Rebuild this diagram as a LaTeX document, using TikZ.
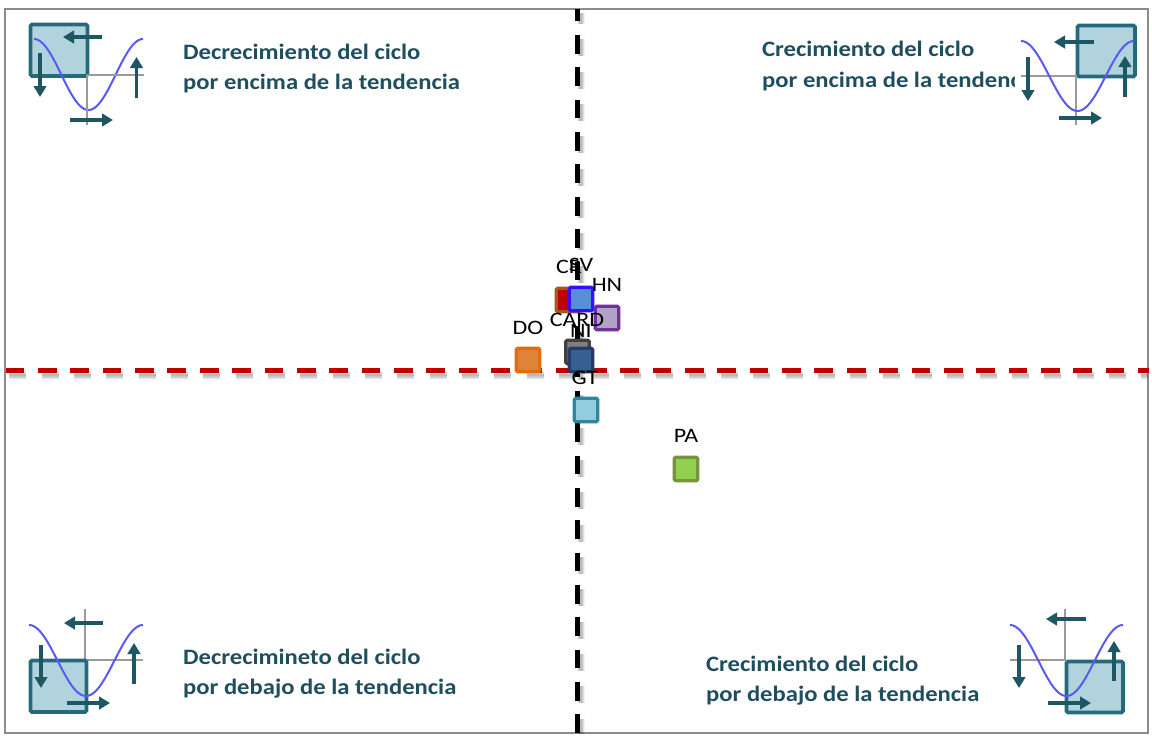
\documentclass[tikz,border=0pt]{standalone}
\usepackage{graphicx}
\usepackage{fontspec}
\setmainfont{Carlito}
\usetikzlibrary{arrows.meta}
\definecolor{frameg}{HTML}{8C8C8C}
\definecolor{tealb}{HTML}{26697B}
\definecolor{tealf}{HTML}{B1D3DE}
\definecolor{tealar}{HTML}{1E5763}
\definecolor{curvec}{HTML}{5A5AF0}
\definecolor{axisg}{HTML}{9A9A9A}
\definecolor{headc}{HTML}{1F4E5F}
\definecolor{redl}{HTML}{C00000}
\definecolor{crb}{HTML}{A8561E}
\definecolor{svb}{HTML}{3311FF}
\definecolor{svf}{HTML}{588ED8}
\definecolor{hnb}{HTML}{7030A0}
\definecolor{hnf}{HTML}{B3A2C7}
\definecolor{dob}{HTML}{E46C0A}
\definecolor{dof}{HTML}{DD8439}
\definecolor{cab}{HTML}{404040}
\definecolor{caf}{HTML}{7F7F7F}
\definecolor{nib}{HTML}{263A64}
\definecolor{nif}{HTML}{376092}
\definecolor{gtb}{HTML}{31859C}
\definecolor{gtf}{HTML}{92CDDC}
\definecolor{pab}{HTML}{77933C}
\definecolor{paf}{HTML}{92D050}
\tikzset{
  x=1pt,y=-1pt,
  framebox/.style={draw=frameg,line width=1.3pt},
  blackdash/.style={draw=black,line width=4.7pt,dash pattern=on 18.7pt off 13.65pt,dash phase=6.3pt},
  reddash/.style={draw=redl,line width=4.7pt,dash pattern=on 18.7pt off 13.65pt},
  vshadow/.style={draw=black,opacity=.06,dash pattern=on 17pt off 15.35pt,dash phase=5.5pt},
  hshadow/.style={draw=black,opacity=.06,dash pattern=on 17pt off 15.35pt},
  iconbox/.style={draw=tealb,fill=tealf,line width=3.6pt,rounded corners=1.5pt},
  cyclecurve/.style={draw=curvec,line width=2pt},
  axisline/.style={draw=axisg,line width=1.5pt},
  trend/.style={draw=tealar,line width=3.4pt,-{Triangle[width=12.5pt,length=11pt]}},
  heading/.style={font=\fontsize{22}{30}\selectfont\bfseries,text=headc,anchor=base west,inner sep=0pt},
  marker/.style={draw=#1,line width=3.2pt,rounded corners=1.5pt,minimum size=23.6pt,inner sep=0pt},
  tag/.style={font=\fontsize{20.5}{20}\selectfont,text=black,inner sep=0pt},
}
\newcommand{\hz}[1]{\scalebox{1.17}[1]{#1}}
\newcommand{\hd}[1]{\scalebox{1.12}[1]{#1}}
\newcommand{\wavepath}[4]{% x0, y0, width, depth
  plot[domain=0:360,samples=73,smooth] ({#1+\x/360*#3},{#2+#4*(1-cos(\x))/2})}
\begin{document}
\begin{tikzpicture}
\useasboundingbox (0,0) rectangle (1152,740);
\fill[white] (0,0) rectangle (1152,740);
\coordinate (vtop) at (577.4,9);
\coordinate (vbot) at (577.4,734);
\coordinate (hl) at (5.7,370.8);
\coordinate (hr) at (1149,370.8);

\draw[framebox] (5,9) rectangle (1148,733);

% headings
\node[heading] (h1a) at (183,59) {\hd{Decrecimiento del ciclo}};
\node[heading] (h1b) at (183,89) {\hd{por encima de la tendencia}};
\node[heading] (h2a) at (762,56) {\hd{Crecimiento del ciclo}};
\node[heading] (h2b) at (762,87) {\hd{por encima de la tendencia}};
\fill[white] (1015,62) rectangle (1060,100);
\node[heading] (h3a) at (183,664) {\hd{Decrecimineto del ciclo}};
\node[heading] (h3b) at (183,694) {\hd{por debajo de la tendencia}};
\node[heading] (h4a) at (706,671) {\hd{Crecimiento del ciclo}};
\node[heading] (h4b) at (706,701) {\hd{por debajo de la tendencia}};

% icon top left
\path[iconbox] (30.5,24.5) rectangle (87.5,76);
\draw[cyclecurve] \wavepath{34}{39}{109}{71};
\draw[axisline] (87,75) -- (144,75);
\draw[axisline] (87,75) -- (87,125);
\draw[trend] (102,37) -- (63,37);
\draw[trend] (40,53) -- (40,97);
\draw[trend] (136.5,98) -- (136.5,57);
\draw[trend] (70,120) -- (113,120);

% icon top right
\path[iconbox] (1077.5,25.5) rectangle (1135,76.5);
\draw[axisline] (1021,76) -- (1077,76);
\draw[axisline] (1076,76) -- (1076,125);
\draw[cyclecurve] \wavepath{1021}{41}{113}{70};
\draw[trend] (1094,42) -- (1054,42);
\draw[trend] (1028,57) -- (1028,101);
\draw[trend] (1125,97) -- (1125,56);
\draw[trend] (1059,118) -- (1102,118);

% icon bottom left
\draw[axisline] (85,660) -- (143,660);
\draw[axisline] (85,609) -- (85,660);
\path[iconbox] (30.5,660.5) rectangle (86.5,712);
\draw[cyclecurve] \wavepath{29}{625}{114}{71};
\draw[trend] (103,623) -- (64,623);
\draw[trend] (41,645) -- (41,688);
\draw[trend] (134,684) -- (134,643);
\draw[trend] (67,703) -- (110,703);

% icon bottom right
\draw[axisline] (1010,660) -- (1066,660);
\draw[axisline] (1065,609) -- (1065,660);
\path[iconbox] (1066.5,661.5) rectangle (1123,712.5);
\draw[cyclecurve] \wavepath{1010}{625}{113}{71};
\draw[trend] (1086,619) -- (1046,619);
\draw[trend] (1019,645) -- (1019,688);
\draw[trend] (1114,681) -- (1114,641);
\draw[trend] (1048,703) -- (1091,703);

% reference lines with soft shadows
\foreach \w in {8,6.5,5,3.5,2}{
  \draw[vshadow,line width=\w pt] ([shift={(3.5,3.5)}]vtop) -- ([shift={(3.5,0)}]vbot);
  \draw[hshadow,line width=\w pt] ([shift={(3.5,4.5)}]hl) -- ([shift={(-1,4.5)}]hr);
}
\draw[blackdash] (vtop) -- (vbot);
\draw[reddash] (hl) -- (hr);

% markers
\node[marker=crb,fill=redl] (mCR) at (568,300) {};
\node[marker=svb,fill=svf] (mSV) at (581,299) {};
\node[marker=hnb,fill=hnf] (mHN) at (607,318) {};
\node[marker=dob,fill=dof] (mDO) at (528,360) {};
\node[marker=cab,fill=caf] (mCARD) at (577.5,352) {};
\node[marker=nib,fill=nif] (mNI) at (581,360) {};
\node[marker=gtb,fill=gtf] (mGT) at (586,410) {};
\node[marker=pab,fill=paf] (mPA) at (686,469) {};

% labels
\node[tag] (tCR) at (569,267) {\hz{CR}};
\node[tag] (tSV) at (581,265) {\hz{SV}};
\node[tag] (tHN) at (607,285) {\hz{HN}};
\node[tag] (tCARD) at (577,320) {\hz{CARD}};
\node[tag] (tNI) at (581,331) {\hz{NI}};
\node[tag] (tDO) at (528,327.5) {\hz{DO}};
\node[tag] (tGT) at (585,378) {\hz{GT}};
\node[tag] (tPA) at (686,436) {\hz{PA}};
\end{tikzpicture}
\end{document}
